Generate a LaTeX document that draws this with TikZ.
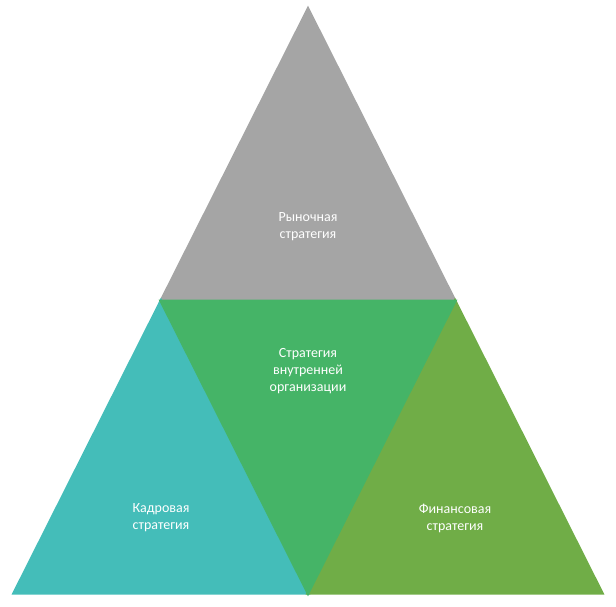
\documentclass[tikz,border=0pt]{standalone}
\usepackage{fontspec}
\setmainfont{Carlito}
\definecolor{cgray}{HTML}{A5A5A5}
\definecolor{cteal}{HTML}{44BDB9}
\definecolor{cgreen}{HTML}{45B467}
\definecolor{colive}{HTML}{70AD47}
\begin{document}
\begin{tikzpicture}[x=1pt,y=-1pt,
  tri/.style={draw=white,line width=3pt,line join=miter},
  lbl/.style={text=white,font=\fontsize{14}{17}\selectfont,align=center}]
\useasboundingbox (0,0) rectangle (616,606);
\fill[tri,cgray] (308,9) -- (161,301) -- (455,301) -- cycle;
\fill[tri,cteal] (161,301) -- (14,593) -- (308,593) -- cycle;
\fill[tri,colive] (455,301) -- (308,593) -- (602,593) -- cycle;
\fill[tri,cgreen] (161,301) -- (455,301) -- (308,593) -- cycle;
\node[lbl] (t) at (308,227) {Рыночная\\стратегия};
\node[lbl] (c) at (308,371) {Стратегия\\внутренней\\организации};
\node[lbl] (l) at (161,518) {Кадровая\\стратегия};
\node[lbl] (r) at (455,518) {Финансовая\\стратегия};
\end{tikzpicture}
\end{document}
